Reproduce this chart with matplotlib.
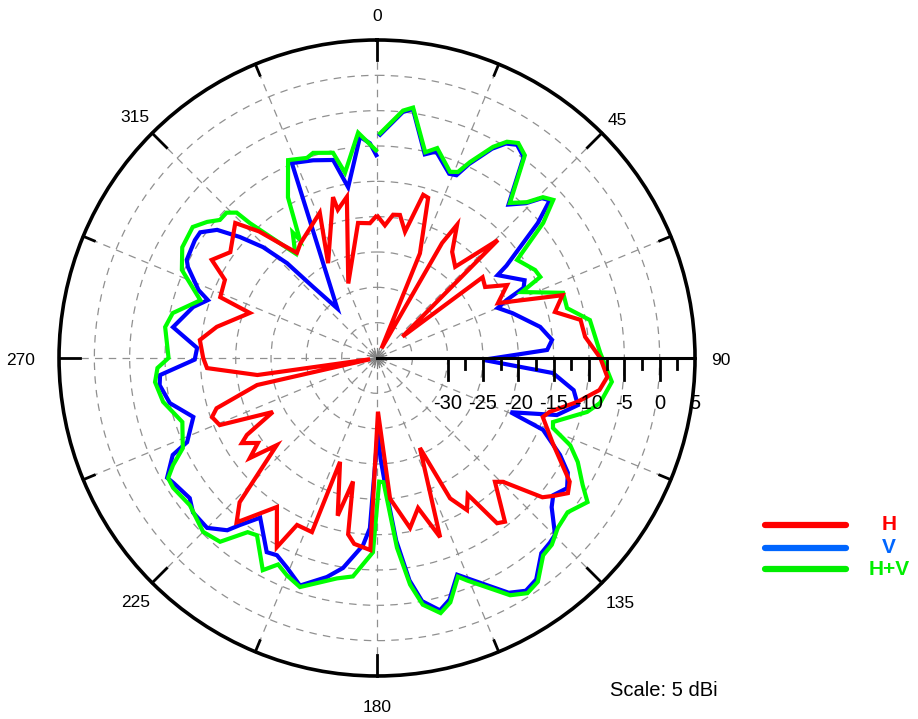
import numpy as np
import matplotlib
matplotlib.use("Agg")
import matplotlib.pyplot as plt
from matplotlib.lines import Line2D
from matplotlib.transforms import offset_copy

plt.rcParams["font.family"] = ["Liberation Sans", "DejaVu Sans"]

# radial scale (dBi)
r_min, r_max = -40, 5
ring_values = [-35, -30, -25, -20, -15, -10, -5, 0]
axis_tick_values = [-30, -25, -20, -15, -10, -5, 0, 5]
angle_labels = ["0", "45", "90", "135", "180", "225", "270", "315"]

# H polarisation (angle deg, gain dBi)
h_ang = [0.4, 3.4, 6.4, 9.1, 12.5, 15.8, 17.7, 22.3, 25, 29.5, 31, 35.3, 40.6, 45.7, 50,
         52.6, 56.7, 60.7, 65.6, 71.3, 75.5, 79.4, 84.2, 90, 94.7, 98.2, 102.4, 107.3,
         109.6, 115.8, 122.7, 125.3, 127.8, 130.1, 134.5, 136.4, 142, 144, 146.4, 149.4,
         152.5, 154.5, 160.6, 164.7, 169, 174.7, 179, 182, 187, 189.3, 191, 194, 199.6,
         200.5, 205.6, 207.9, 213.9, 220.5, 223.6, 229, 231.8, 234.5, 237.8, 239.4,
         242.6, 246.9, 250.3, 252.6, 257.3, 260, 261.9, 266.6, 270, 275.8, 281, 289.5,
         291.2, 297.2, 300.7, 305.8, 313.6, 317, 320, 322.7, 326.2, 338.5, 332.7, 344.7,
         345.2, 349.4, 338.9, 352, 357, 359.5]
h_db = [-20, -21.2, -19.6, -19.5, -21.7, -16, -16.2, -24, -38.5, -21.3, -18, -21.6, -23,
        -16.1, -35.3, -21.2, -21.7, -18.9, -21.2, -12.3, -14, -10.7, -10.4, -8.4, -7.3,
        -8.2, -11, -14.4, -15.1, -12.4, -7.6, -6.9, -8.2, -9.4, -15, -15.8, -10.6, -11.1,
        -16.8, -15, -17.6, -25.9, -13.1, -18, -15.5, -20, -32.4, -12.8, -13.5, -14.7,
        -22.2, -17, -24.4, -13.7, -13.8, -9.7, -14.6, -9.4, -11.8, -21.2, -17.1, -19.3,
        -17.4, -18.6, -23.4, -15.8, -15.2, -16.2, -22.6, -39, -22.9, -15.9, -15.4, -14.8,
        -16.9, -20.9, -16.2, -15.8, -12.8, -14.4, -12.3, -15.5, -19, -21.3, -20.5, -17.9,
        -24.9, -16.4, -18.3, -16.8, -28.7, -20.7, -20.9, -20]

# V polarisation
v_ang = [0.8, 6, 8.2, 13.2, 16, 21.4, 23.5, 25.4, 28.8, 31, 33.3, 36.1, 40.6, 43.9, 45.9,
         47.6, 50, 54.5, 55.5, 62.2, 64.4, 65.9, 67.5, 71.7, 79.2, 84.1, 87.3, 91, 94.9,
         99.3, 103.2, 107.6, 112.1, 113.4, 117.9, 121, 124.4, 127.9, 130.5, 134.8, 136.9,
         139.9, 144.3, 147.4, 150.7, 157.9, 159.7, 163.3, 166, 169.5, 171.7, 174, 176,
         178, 179.5, 182.4, 184.3, 189.2, 192.9, 198.7, 203.2, 206.9, 209.6, 216.2,
         219.4, 221, 225, 230, 233.2, 238.5, 240.3, 244.6, 246.1, 252.2, 257.7, 262.9,
         265.5, 269.5, 273.2, 278.6, 285.5, 288.9, 290.8, 295.7, 297.3, 302.9, 305.4,
         308.7, 311.4, 314.2, 316.5, 318, 321.3, 336.4, 342.1, 347.5, 350.4, 355.6,
         358.1, 359.8]
v_db = [-8.4, -5, -4.4, -10.4, -9.6, -12, -11.8, -9.6, -6.2, -4.6, -3.9, -4.8, -11.4,
        -9.6, -7.5, -6.9, -10.3, -17.5, -19.3, -16.4, -17, -19.9, -21.5, -19.8, -16.5,
        -15.1, -15.9, -25, -15, -11.8, -10.8, -13.3, -19.6, -14.4, -10.7, -8.5, -7.4,
        -8.4, -7.5, -4.5, -4.2, -3.9, -1.4, -0.9, -1.9, -6.4, -7.3, -4.3, -3.2, -5, -8.2,
        -14, -21, -25.8, -29.4, -15.9, -13.4, -9.9, -8.2, -6, -7.7, -8.7, -8.4, -12,
        -9.4, -7.7, -6, -6, -6.9, -6.2, -5.8, -8, -10.6, -12.7, -10, -9, -9.2, -14.2,
        -14.5, -10.8, -13, -14.7, -13, -10.3, -9.7, -9.3, -9.3, -11, -14.1, -17.5,
        -21.5, -26.4, -31, -9.9, -10.6, -11.3, -15.5, -8.6, -9.6, -11.3]

# H+V total
hv_ang = [0.8, 6, 8.2, 13.2, 16, 21.4, 23.5, 25.4, 28.8, 31, 33.3, 36.1, 40.6, 43.9, 45.9,
          48.1, 50.9, 55, 60.9, 63.6, 65.5, 70.7, 75.3, 79.9, 88.7, 95.8, 101.4, 104.4,
          110, 111.7, 114.3, 117.4, 121.7, 124.4, 129, 133.2, 136.9, 139.9, 144.3, 147.4,
          150.7, 157.9, 159.7, 163.3, 166, 169.5, 171.7, 174, 177, 179, 181.2, 186.3,
          190.3, 198.6, 202.5, 205.6, 208.3, 214.1, 216.6, 220.5, 225, 231.8, 237.5,
          240.1, 242.3, 245.1, 251.8, 258.4, 263.8, 267.4, 270, 278.3, 282.4, 288.1,
          294.3, 299.6, 305.4, 308.7, 311.3, 314, 316, 316.7, 321.1, 322, 326.1, 326.9,
          331, 335.8, 340.7, 342.7, 347.9, 350.2, 355.2, 359.7]
hv_db = [-8.2, -4.8, -4.2, -10.1, -9.1, -11.7, -11.3, -9.3, -5.9, -4.3, -3.6, -4.5, -11.1,
         -9.4, -7.3, -6.5, -9.7, -15.8, -14.4, -14.2, -17.5, -12.1, -12.2, -9.4, -8.4,
         -6.6, -7.8, -9.3, -13.5, -13.2, -10, -8, -5.8, -3.9, -5.3, -4.9, -3.8, -3.5, -1,
         -0.5, -1.5, -6, -7, -3.9, -2.8, -4.5, -7.6, -13, -22.4, -22.5, -12.5, -8.9, -8.3,
         -5.8, -6.7, -7.6, -5.9, -9.7, -9.3, -5.8, -5.2, -6.3, -5.8, -5.9, -7.4, -9.7,
         -11, -9.1, -8.4, -8.9, -10.5, -9.7, -10.4, -13.7, -9.7, -8.3, -8, -9.2, -10.4,
         -10.4, -11.4, -13.8, -20.3, -21.2, -18.6, -20, -14, -9.3, -10, -9.6, -10.3,
         -13.4, -8, -10.6]

fig = plt.figure(figsize=(9.18, 7.19), dpi=100)
rect = [0.0643, 0.0598, 0.6928, 0.8846]
ax = fig.add_axes(rect, projection="polar")
ax.set_theta_zero_location("N")
ax.set_theta_direction(-1)
ax.set_rlim(r_min, r_max)

# grid
ax.set_rticks(ring_values)
ax.set_yticklabels([])
ax.set_xticks(np.deg2rad(np.arange(0, 360, 22.5)))
ax.set_xticklabels([])
ax.grid(True, color="#909090", linestyle=(0, (6, 5)), linewidth=0.9)
ax.tick_params(axis="x", length=0)
ax.spines["polar"].set_linewidth(2.6)
ax.spines["polar"].set_color("black")

# tick marks on the outer circle (longer at labelled angles)
for a in np.arange(0, 360, 22.5):
    depth = 2.9 if a % 45 == 0 else 1.7
    ax.plot([np.deg2rad(a)] * 2, [r_max, r_max - depth], color="black", lw=2.0,
            zorder=5, clip_on=False)

# little star at the centre
for a in np.arange(0, 360, 15):
    ax.plot([np.deg2rad(a)] * 2, [r_min, r_min + 1.4], color="#808080", lw=0.9)

# data
ax.plot(np.deg2rad(v_ang), v_db, color="#0000ff", lw=3.0, solid_joinstyle="miter")
ax.plot(np.deg2rad(hv_ang), hv_db, color="#00ff00", lw=3.0, solid_joinstyle="miter")
ax.plot(np.deg2rad(h_ang), h_db, color="#ff0000", lw=3.0, solid_joinstyle="miter")

# radial axis line at 90 deg
ax.plot([np.pi / 2] * 2, [r_min, r_max], color="black", lw=2.2, zorder=5)

# angle labels (distance from centre in pixels)
label_dist = [344, 340, 344, 344, 347, 342, 356, 343]
lab_trans = offset_copy(ax.transData, fig=fig, x=0, y=-2.5, units="dots")
for i, lab in enumerate(angle_labels):
    ax.text(np.deg2rad(45 * i), r_min + label_dist[i] / 7.067, lab, ha="center",
            va="center", fontsize=12.5, clip_on=False, transform=lab_trans)

# overlay for the radial axis ticks (units = dB from centre)
ax2 = fig.add_axes(rect)
ax2.set_xlim(-45, 45)
ax2.set_ylim(-45, 45)
ax2.axis("off")
ax2.patch.set_alpha(0)
for v in axis_tick_values:
    x = v - r_min
    ax2.plot([x, x], [0, -3.1], color="black", lw=2.0)
    ax2.text(x, -6.4, str(v), ha="center", va="center", fontsize=14.5)
for v in np.arange(-27.5, 5, 5):
    x = v - r_min
    ax2.plot([x, x], [0, -1.6], color="black", lw=2.0)

# legend
leg_items = [("H", "#ff0000", 0.270), ("V", "#0066ff", 0.238), ("H+V", "#00ee00", 0.208)]
for lab, col, yy in leg_items:
    fig.add_artist(Line2D([765 / 918, 846 / 918], [yy, yy], color=col, lw=4.5,
                          solid_capstyle="round"))
    fig.text(889 / 918, yy, lab, color=col, fontsize=15, fontweight="bold",
             ha="center", va="center")

fig.text(610 / 918, 1 - 690 / 719, "Scale: 5 dBi", fontsize=14.5, ha="left", va="center")

fig.savefig("out.png", dpi=100)
